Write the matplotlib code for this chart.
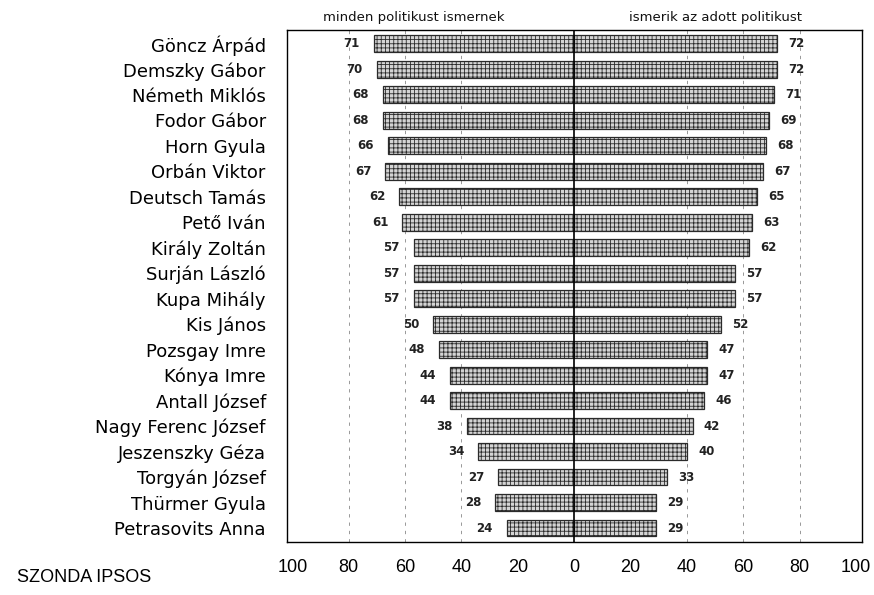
import matplotlib.pyplot as plt
import numpy as np

# Data
names = ["Göncz Árpád", "Demszky Gábor", "Németh Miklós", "Fodor Gábor",
         "Horn Gyula", "Orbán Viktor", "Deutsch Tamás", "Pető Iván",
         "Király Zoltán", "Surján László", "Kupa Mihály", "Kis János",
         "Pozsgay Imre", "Kónya Imre", "Antall József", "Nagy Ferenc József",
         "Jeszenszky Géza", "Torgyán József", "Thürmer Gyula", "Petrasovits Anna"]
left_vals = [71, 70, 68, 68, 66, 67, 62, 61, 57, 57, 57, 50, 48, 44, 44, 38, 34, 27, 28, 24]
right_vals = [72, 72, 71, 69, 68, 67, 65, 63, 62, 57, 57, 52, 47, 47, 46, 42, 40, 33, 29, 29]
tick_vals = [-100, -80, -60, -40, -20, 0, 20, 40, 60, 80, 100]
left_title = "minden politikust ismernek"
right_title = "ismerik az adott politikust"

plt.rcParams['font.family'] = ['Liberation Sans', 'DejaVu Sans']
plt.rcParams['hatch.linewidth'] = 0.6

fig = plt.figure(figsize=(8.74, 5.95), dpi=100)
ax = fig.add_axes([0.328, 0.089, 0.658, 0.861])

y = np.arange(len(names))
bar_style = dict(height=0.66, color='#d4d4d4', edgecolor='#2a2a2a',
                 hatch='++++', linewidth=0.9)
ax.barh(y, [-v for v in left_vals], **bar_style)
ax.barh(y, right_vals, **bar_style)

# value labels
for i in range(len(names)):
    ax.text(-left_vals[i] - 5, y[i], str(left_vals[i]), ha='right', va='center',
            fontsize=8.5, fontweight='bold', color='#222222', family='DejaVu Sans')
    ax.text(right_vals[i] + 4, y[i], str(right_vals[i]), ha='left', va='center',
            fontsize=8.5, fontweight='bold', color='#222222', family='DejaVu Sans')

# grid lines and centre line
for g in [-80, -60, -40, 40, 60, 80]:
    ax.axvline(g, color='#888888', linewidth=0.6, linestyle=(0, (4, 6)), zorder=0)
ax.axvline(0, color='black', linewidth=1.2)

ax.set_xlim(-102, 102)
ax.set_ylim(len(names) - 0.45, -0.55)
ax.set_yticks(y)
ax.set_yticklabels(names, fontsize=13, family='DejaVu Sans')
ax.set_xticks(tick_vals)
ax.set_xticklabels([str(abs(t)) for t in tick_vals], fontsize=13)
ax.tick_params(axis='y', length=0, pad=15)
ax.tick_params(axis='x', length=0, pad=12)
for s in ax.spines.values():
    s.set_linewidth(1.0)

ax.text(-57, -0.78, left_title, ha='center', va='bottom', fontsize=9.5,
        family='DejaVu Sans', color='#111111')
ax.text(50, -0.78, right_title, ha='center', va='bottom', fontsize=9.5,
        family='DejaVu Sans', color='#111111')

fig.text(0.02, 0.015, "SZONDA IPSOS", fontsize=13, ha='left', va='bottom')

fig.savefig("out.png", dpi=100)
